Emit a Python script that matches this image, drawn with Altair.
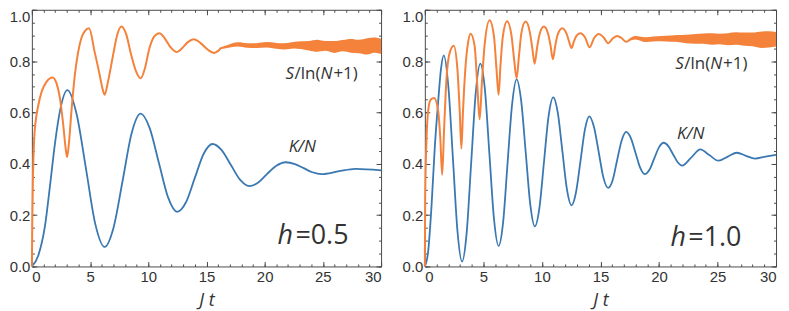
import altair as alt
import pandas as pd

# ---------------- colours ----------------
BLUE = "#3a78b2"
ORANGE = "#f4823b"
FRAME = "#4a4a4a"
TEXT = "#333333"

# ---------------- left panel (h = 0.5) ----------------
left_blue_t = [0, 0.56, 1.13, 1.55, 1.98, 2.41, 3.06, 3.86, 4.65, 5.45, 6.25, 7.02, 7.8, 8.57,
               9.34, 10.12, 10.91, 11.7, 12.48, 13.24, 14.0, 14.77, 15.53, 16.3, 17.1, 17.9,
               18.66, 19.45, 20.2, 21.0, 21.8, 22.6, 23.35, 24.1, 24.9, 26.3, 27.8, 30]
left_blue_y = [0, 0.044, 0.159, 0.312, 0.478, 0.605, 0.687, 0.59, 0.38, 0.165, 0.076, 0.152, 0.335, 0.519,
               0.595, 0.539, 0.404, 0.269, 0.213, 0.25, 0.345, 0.44, 0.477, 0.453, 0.395, 0.337,
               0.313, 0.327, 0.36, 0.392, 0.406, 0.399, 0.383, 0.367, 0.360, 0.37, 0.38, 0.374]

left_orange_t = [0, 0.04, 0.1, 0.19, 0.33, 0.56, 0.84, 1.27, 1.78, 2.12, 2.41, 2.69, 2.89, 3.03,
                 3.18, 3.4, 3.69, 3.97, 4.26, 4.55, 4.91, 5.4, 5.83, 6.03, 6.25, 6.54, 6.97,
                 7.34, 7.69, 8.1, 8.5, 8.95, 9.34, 9.7, 10.1, 10.5, 10.97, 11.4, 11.9, 12.45,
                 12.9, 13.4, 13.9, 14.5, 15.1, 15.67, 16.2]
left_orange_y = [0, 0.197, 0.363, 0.49, 0.567, 0.63, 0.681, 0.72, 0.736, 0.713, 0.656, 0.554, 0.465, 0.426,
                 0.478, 0.605, 0.745, 0.834, 0.891, 0.917, 0.928, 0.834, 0.745, 0.70, 0.669, 0.72, 0.822,
                 0.904, 0.935, 0.905, 0.83, 0.76, 0.733, 0.77, 0.85, 0.895, 0.909, 0.89, 0.855, 0.835,
                 0.85, 0.874, 0.885, 0.87, 0.845, 0.832, 0.848]

left_band_t = [16.1, 17.0, 17.7, 18.5, 19.3, 20.2, 21.0, 21.7, 22.5, 23.1, 23.8, 24.5, 25.2,
               26.0, 26.7, 27.4, 28.1, 28.8, 29.4, 30.0]
left_band_lo = [0.845, 0.853, 0.857, 0.852, 0.851, 0.853, 0.848, 0.845, 0.849, 0.847, 0.841, 0.836, 0.840,
                0.832, 0.838, 0.833, 0.831, 0.826, 0.833, 0.828]
left_band_hi = [0.852, 0.866, 0.873, 0.870, 0.870, 0.874, 0.871, 0.870, 0.874, 0.877, 0.878, 0.883, 0.878,
                0.878, 0.882, 0.886, 0.883, 0.889, 0.892, 0.887]

# ---------------- right panel (h = 1.0) ----------------
right_blue_t = [0, 0.28, 0.57, 0.85, 1.14, 1.38, 1.62, 2.01, 2.4, 2.79, 3.18, 3.57, 3.96, 4.35, 4.74,
                5.13, 5.52, 5.91, 6.3, 6.69, 7.07, 7.46, 7.84, 8.23, 8.62, 9.01, 9.4, 9.79, 10.18,
                10.57, 10.97, 11.36, 11.75, 12.14, 12.53, 12.91, 13.3, 13.68, 14.05, 14.45, 14.85,
                15.25, 15.66, 16.05, 16.43, 16.82, 17.2, 17.6, 18.0, 18.4, 18.78, 19.2, 19.6, 20.0,
                20.4, 20.8, 21.2, 21.6, 21.97, 22.75, 23.53, 24.3, 25.09, 25.88, 26.66, 27.43,
                28.2, 29.1, 30]
right_blue_y = [0, 0.057, 0.235, 0.465, 0.643, 0.77, 0.822, 0.70, 0.42, 0.136, 0.019, 0.13, 0.405, 0.677, 0.79,
                0.69, 0.435, 0.184, 0.08, 0.174, 0.405, 0.634, 0.729, 0.645, 0.443, 0.24, 0.156, 0.229, 0.408,
                0.586, 0.659, 0.598, 0.449, 0.30, 0.238, 0.288, 0.412, 0.535, 0.585, 0.543, 0.446,
                0.347, 0.306, 0.337, 0.415, 0.492, 0.524, 0.50, 0.442, 0.384, 0.36, 0.378, 0.421, 0.464,
                0.482, 0.469, 0.437, 0.406, 0.393, 0.424, 0.456, 0.434, 0.412, 0.428, 0.443, 0.431,
                0.42, 0.428, 0.435]

right_orange_t = [0, 0.03, 0.14, 0.28, 0.51, 0.8, 1.14, 1.32, 1.48, 1.65, 1.85, 2.13, 2.47, 2.78, 2.98,
                  3.12, 3.26, 3.46, 3.69, 3.91, 4.25, 4.48, 4.68, 4.88, 5.1, 5.53, 5.9, 6.12, 6.3,
                  6.46, 6.67, 7.03, 7.4, 7.62, 7.84, 8.04, 8.25, 8.61, 8.98, 9.18, 9.38, 9.58, 9.8,
                  10.17, 10.54, 10.74, 10.94, 11.14, 11.36, 11.74, 12.12, 12.33, 12.53, 12.73, 12.95,
                  13.3, 13.68, 14.07, 14.46, 14.86, 15.26, 15.66, 16.05, 16.43, 16.82, 17.2, 17.5]
right_orange_y = [0, 0.27, 0.49, 0.605, 0.65, 0.656, 0.605, 0.50, 0.357, 0.541, 0.732, 0.834, 0.86, 0.77, 0.605,
                  0.459, 0.605, 0.77, 0.872, 0.907, 0.86, 0.707, 0.573, 0.72, 0.86, 0.959, 0.898, 0.77, 0.669,
                  0.783, 0.898, 0.955, 0.90, 0.81, 0.733, 0.82, 0.91, 0.954, 0.91, 0.85, 0.79, 0.85, 0.905,
                  0.935, 0.905, 0.86, 0.807, 0.86, 0.905, 0.928, 0.905, 0.875, 0.851, 0.876, 0.898,
                  0.909, 0.893, 0.854, 0.89, 0.906, 0.893, 0.87, 0.888, 0.898, 0.889, 0.875, 0.882]

right_band_t = [17.4, 18.0, 18.85, 19.5, 20.2, 21.0, 21.6, 22.3, 23.1, 23.8, 24.5, 25.2, 25.9,
                26.6, 27.3, 28.0, 28.8, 29.4, 30.0]
right_band_lo = [0.877, 0.884, 0.874, 0.876, 0.877, 0.875, 0.874, 0.870, 0.868, 0.868, 0.864, 0.866, 0.862,
                 0.864, 0.860, 0.858, 0.851, 0.853, 0.857]
right_band_hi = [0.885, 0.898, 0.893, 0.896, 0.898, 0.900, 0.902, 0.903, 0.906, 0.908, 0.909, 0.907, 0.909,
                 0.912, 0.911, 0.911, 0.915, 0.916, 0.913]

# ---------------- annotations ----------------
h_values = ["=0.5", "=1.0"]
entropy_anchor_t = [21.8, 21.4]
entropy_anchor_y = [0.75, 0.79]
k_anchor_t = [22.06, 21.55]
k_anchor_y = [0.465, 0.516]
h_anchor_t = [21.1, 20.98]
h_anchor_y = [0.089, 0.081]

# ---------------- ticks ----------------
x_major = [0, 5, 10, 15, 20, 25, 30]
x_minor = [0, 1, 2, 3, 4, 5, 6, 7, 8, 9, 10, 11, 12, 13, 14, 15, 16, 17, 18, 19, 20,
           21, 22, 23, 24, 25, 26, 27, 28, 29, 30]
y_major = [0, 0.2, 0.4, 0.6, 0.8, 1.0]
y_minor = [0, 0.05, 0.1, 0.15, 0.2, 0.25, 0.3, 0.35, 0.4, 0.45, 0.5, 0.55, 0.6, 0.65, 0.7,
           0.75, 0.8, 0.85, 0.9, 0.95, 1.0]

MAJ = 5
MIN = 2.5


def xscale():
    return alt.Scale(domain=[0, 30], nice=False, zero=False)


def yscale():
    return alt.Scale(domain=[0, 1], nice=False, zero=False)


def tick_axis(orient, values, size):
    return alt.Axis(orient=orient, values=values, tickSize=size, offset=-size, domain=False,
                    grid=False, labels=False, title=None, tickColor=FRAME, tickWidth=1)


def main_x_axis():
    return alt.Axis(orient="bottom", values=x_major, tickSize=MAJ, offset=-MAJ, domain=False,
                    grid=False, format="d", labelPadding=3, title="J t", titlePadding=7,
                    tickColor=FRAME, tickWidth=1)


def main_y_axis():
    return alt.Axis(orient="left", values=y_major, tickSize=MAJ, offset=-MAJ, domain=False,
                    grid=False, format=".1f", labelPadding=2, title=None,
                    labelBaseline={"condition": {"test": "datum.value == 1", "value": "top"},
                                   "value": "middle"},
                    tickColor=FRAME, tickWidth=1)


def text_layer(t, y, s, dx, italic, size, baseline="middle"):
    df = pd.DataFrame({"t": [t], "y": [y], "s": [s]})
    return alt.Chart(df).mark_text(
        align="left", baseline=baseline, dx=dx, font="Open Sans", fontSize=size,
        fontStyle="italic" if italic else "normal", color=TEXT
    ).encode(
        x=alt.X("t:Q", scale=xscale(), axis=None),
        y=alt.Y("y:Q", scale=yscale(), axis=None),
        text="s:N",
    )


def panel(i, bt, by, ot, oy, bandt, bandlo, bandhi, width):
    blue = alt.Chart(pd.DataFrame({"t": bt, "y": by})).mark_line(
        color=BLUE, strokeWidth=1.8, interpolate="monotone"
    ).encode(
        x=alt.X("t:Q", scale=xscale(), axis=main_x_axis()),
        y=alt.Y("y:Q", scale=yscale(), axis=main_y_axis()),
    )
    band = alt.Chart(pd.DataFrame({"t": bandt, "lo": bandlo, "hi": bandhi})).mark_area(
        color=ORANGE, interpolate="monotone", opacity=1
    ).encode(
        x=alt.X("t:Q", scale=xscale(), axis=tick_axis("bottom", x_minor, MIN)),
        y=alt.Y("lo:Q", scale=yscale(), axis=tick_axis("left", y_minor, MIN)),
        y2="hi:Q",
    )
    orange = alt.Chart(pd.DataFrame({"t": ot, "y": oy})).mark_line(
        color=ORANGE, strokeWidth=2, interpolate="monotone"
    ).encode(
        x=alt.X("t:Q", scale=xscale(), axis=tick_axis("top", x_major, MAJ)),
        y=alt.Y("y:Q", scale=yscale(), axis=tick_axis("right", y_major, MAJ)),
    )
    kdf = pd.DataFrame({"t": [k_anchor_t[i]], "y": [k_anchor_y[i]], "s": ["K/N"]})
    klabel = alt.Chart(kdf).mark_text(
        align="left", baseline="middle", font="Open Sans", fontSize=17,
        fontStyle="italic", color=TEXT
    ).encode(
        x=alt.X("t:Q", scale=xscale(), axis=tick_axis("top", x_minor, MIN)),
        y=alt.Y("y:Q", scale=yscale(), axis=tick_axis("right", y_minor, MIN)),
        text="s:N",
    )
    et, ey = entropy_anchor_t[i], entropy_anchor_y[i]
    ent = [
        text_layer(et, ey, "S", 0, True, 17),
        text_layer(et, ey, "/ln(", 9, False, 17),
        text_layer(et, ey, "N", 35, True, 17),
        text_layer(et, ey, "+1)", 48, False, 17),
    ]
    ht, hy = h_anchor_t[i], h_anchor_y[i]
    hl = [
        text_layer(ht, hy, "h", 0, True, 27, "alphabetic"),
        text_layer(ht, hy, h_values[i], 18, False, 27, "alphabetic"),
    ]
    return alt.layer(blue, band, orange, klabel, *ent, *hl).resolve_scale(
        x="independent", y="independent"
    ).properties(width=width, height=258)


left = panel(0, left_blue_t, left_blue_y, left_orange_t, left_orange_y,
             left_band_t, left_band_lo, left_band_hi, 351)
right = panel(1, right_blue_t, right_blue_y, right_orange_t, right_orange_y,
              right_band_t, right_band_lo, right_band_hi, 353)

chart = alt.hconcat(left, right, spacing=15).properties(padding=0).configure_view(
    stroke=FRAME, strokeWidth=1
).configure_axis(
    labelFont="Liberation Sans", labelFontSize=15, labelColor=TEXT,
    titleFont="Open Sans", titleFontSize=18, titleFontStyle="italic",
    titleFontWeight="normal", titleColor=TEXT,
)

chart.save("out.html", embed_options={"renderer": "svg", "actions": False})
